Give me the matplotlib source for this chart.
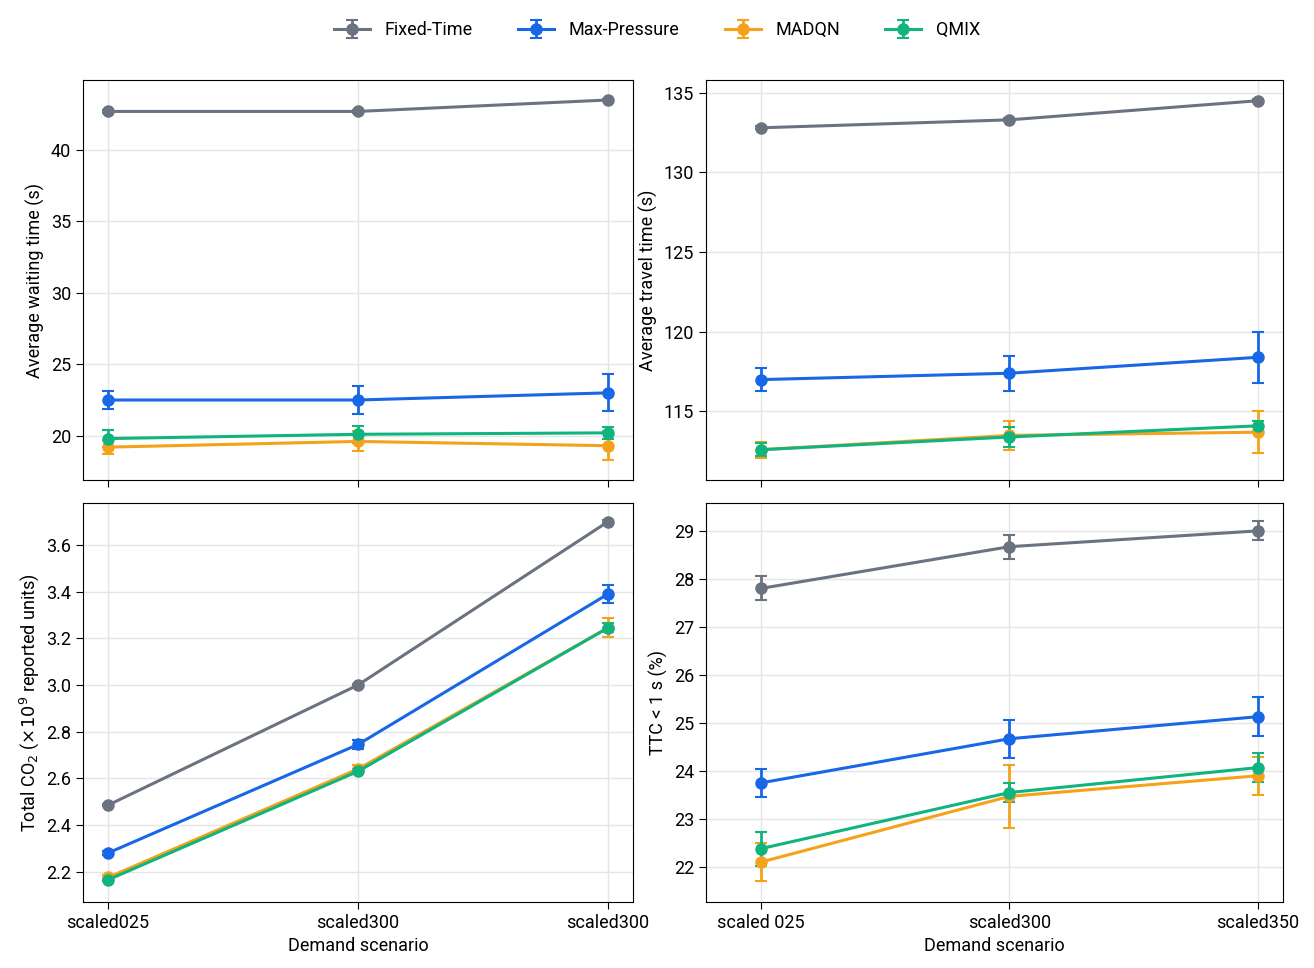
import matplotlib
matplotlib.use("Agg")
import matplotlib.pyplot as plt

plt.rcParams['font.family'] = ['Roboto', 'DejaVu Sans']
plt.rcParams['mathtext.fontset'] = 'dejavusans'

methods = ["Fixed-Time", "Max-Pressure", "MADQN", "QMIX"]
colors = ["#6b7280", "#1767e6", "#f5a21b", "#10b47e"]
x = [0, 1, 2]

wait = [[42.7, 42.7, 43.5], [22.5, 22.5, 23.0], [19.2, 19.6, 19.3], [19.8, 20.1, 20.2]]
wait_err = [[0.1, 0.1, 0.1], [0.6, 1.0, 1.3], [0.5, 0.7, 1.0], [0.6, 0.6, 0.4]]
travel = [[132.8, 133.3, 134.5], [117.0, 117.4, 118.4], [112.6, 113.5, 113.7], [112.6, 113.4, 114.1]]
travel_err = [[0.1, 0.1, 0.1], [0.7, 1.1, 1.6], [0.5, 0.9, 1.3], [0.4, 0.6, 0.3]]
co2 = [[2.485, 3.0, 3.70], [2.28, 2.745, 3.39], [2.175, 2.64, 3.245], [2.165, 2.63, 3.245]]
co2_err = [[0.005, 0.005, 0.005], [0.01, 0.02, 0.04], [0.01, 0.015, 0.04], [0.005, 0.01, 0.02]]
ttc = [[27.8, 28.67, 29.0], [23.75, 24.67, 25.13], [22.1, 23.47, 23.9], [22.38, 23.55, 24.07]]
ttc_err = [[0.25, 0.25, 0.2], [0.3, 0.4, 0.4], [0.4, 0.65, 0.4], [0.35, 0.2, 0.3]]

labels_left = ["scaled025", "scaled300", "scaled300"]
labels_right = ["scaled 025", "scaled300", "scaled350"]

fig = plt.figure(figsize=(13.14, 9.68), dpi=100)
W, H = 1314, 968
def ax_at(l, t, r, b):
    return fig.add_axes([l / W, 1 - b / H, (r - l) / W, (b - t) / H])

axes = [ax_at(83, 80, 633, 480), ax_at(706, 80, 1283, 480),
        ax_at(83, 503, 633, 902), ax_at(706, 503, 1283, 902)]
data = [(wait, wait_err, "Average waiting time (s)", (16.9, 44.9), [20, 25, 30, 35, 40]),
        (travel, travel_err, "Average travel time (s)", (110.7, 135.8), [115, 120, 125, 130, 135]),
        (co2, co2_err, r"Total CO$_2$ ($\times10^9$ reported units)", (2.07, 3.78), [2.2, 2.4, 2.6, 2.8, 3.0, 3.2, 3.4, 3.6]),
        (ttc, ttc_err, "TTC < 1 s (%)", (21.27, 29.58), [22, 23, 24, 25, 26, 27, 28, 29])]

handles = []
for i, (ax, (vals, errs, yl, ylim, yt)) in enumerate(zip(axes, data)):
    for m in range(4):
        h = ax.errorbar(x, vals[m], yerr=errs[m], color=colors[m], marker='o', ms=8,
                        lw=2.2, capsize=4, elinewidth=2, capthick=1.5, label=methods[m])
        if i == 0:
            handles.append(h)
    ax.set_ylim(*ylim)
    ax.set_yticks(yt)
    if i % 2 == 0:
        ax.set_xlim(-0.1, 2.1)
    else:
        ax.set_xlim(-0.22, 2.1)
    ax.set_xticks(x)
    ax.grid(True, color="#e5e5e5", lw=1)
    ax.set_axisbelow(True)
    ax.set_ylabel(yl, fontsize=13)
    ax.tick_params(labelsize=13, length=5)
    if i < 2:
        ax.set_xticklabels([])
    else:
        ax.set_xticklabels(labels_left if i == 2 else labels_right)
        ax.set_xlabel("Demand scenario", fontsize=13)

fig.legend(handles=handles, labels=methods, loc='upper center', bbox_to_anchor=(0.5, 0.995),
           ncol=4, frameon=False, fontsize=13, columnspacing=2.5)
fig.savefig("out.png", dpi=100)
